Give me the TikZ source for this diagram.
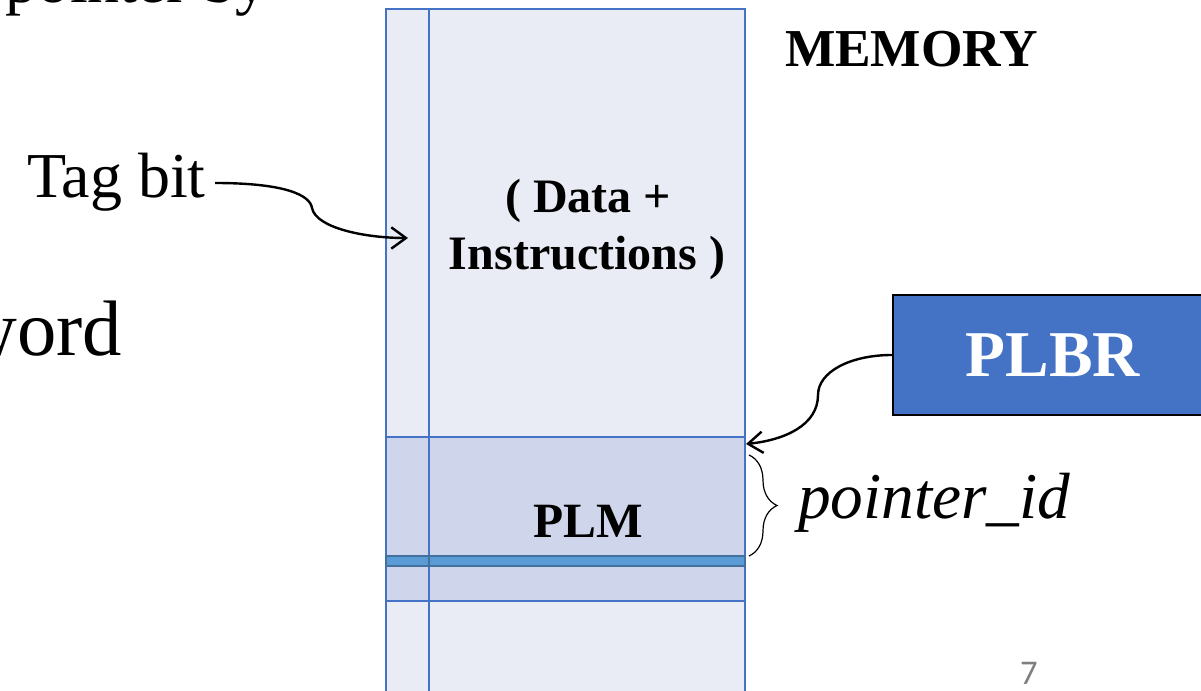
\documentclass[tikz,border=0pt]{standalone}
\usepackage{fontspec}
\setmainfont{Liberation Serif}
\newfontfamily\numfont{Carlito}
\usetikzlibrary{arrows.meta,decorations.pathreplacing}
\definecolor{memlight}{HTML}{E9EBF5}
\definecolor{memdark}{HTML}{CFD5EA}
\definecolor{memline}{HTML}{4472C4}
\definecolor{bandfill}{HTML}{5B9BD5}
\definecolor{bandline}{HTML}{41719C}
\definecolor{pagenum}{HTML}{7F7F7F}
\begin{document}
\begin{tikzpicture}[x=0.75pt,y=-0.75pt,
  txt/.style={inner sep=0pt,outer sep=0pt,text=black},
  gridline/.style={draw=memline,line width=1.9pt},
  pointer/.style={draw=black,line width=1.8pt,-{Straight Barb[length=11pt,width=16pt,line width=1.8pt]}}]
\useasboundingbox (0,0) rectangle (1201,691);

% memory column: background bands
\fill[memlight] (386,9) rectangle (745,700);
\fill[memdark] (386,437) rectangle (745,601);
% column outline, tag-bit column and word boundaries
\draw[gridline] (386,700) -- (386,9) -- (745,9) -- (745,700);
\draw[gridline] (429,9) -- (429,700);
\draw[gridline] (386,437) -- (745,437);
\draw[gridline] (386,601) -- (745,601);
% highlighted word inside the PLM
\draw[fill=bandfill,draw=bandline,line width=1.3pt] (386,556) rectangle (745,566);
\draw[draw=bandline,line width=1.3pt] (429,556) -- (429,566);

% labels
\node[txt,anchor=base west,font=\fontsize{48}{57}\selectfont] (ptrby) at (6,3) {pointer by};
\node[txt,anchor=base east,font=\fontsize{59}{70}\selectfont] (word) at (122,355) {word};
\node[txt,anchor=base west,font=\fontsize{48}{57}\selectfont] (tag) at (27,198) {Tag bit};
\node[txt,anchor=base west,font=\fontsize{40}{48}\selectfont\bfseries] (memory) at (785,67) {MEMORY};
\node[txt,anchor=base,font=\fontsize{36}{43}\selectfont\bfseries] (data1) at (588,213) {( Data +};
\node[txt,anchor=base,font=\fontsize{36}{43}\selectfont\bfseries] (data2) at (587,270) {Instructions )};
\node[txt,anchor=base,font=\fontsize{37}{44}\selectfont\bfseries] (plm) at (588,537) {PLM};
\node[txt,anchor=base west,font=\fontsize{49}{58}\selectfont\itshape] (pid) at (798,518) {pointer\_id};
\node[txt,anchor=base west,font=\numfont\fontsize{26}{31}\selectfont,text=pagenum] (pg) at (1020,684) {7};

% PLBR register
\node[draw=black,line width=1.5pt,fill=memline,text=white,
      minimum width=240pt,minimum height=90pt,inner sep=0pt,
      font=\fontsize{49}{59}\selectfont\bfseries] (plbr) at (1053,355) {PLBR};

% arrow targets
\coordinate (tagtip) at (408,238);
\coordinate (plmtop) at (746,444);
\coordinate (tagstart) at (215,183);

\draw[pointer] (tagstart) .. controls (285,183) and (310,195) .. (312,208)
  .. controls (316,228) and (365,238) .. (tagtip);
\draw[pointer] (plbr.west) .. controls (850,355) and (818,372) .. (818,395)
  .. controls (818,425) and (785,440) .. (plmtop);

% extent of one pointer_id
\draw[line width=0.9pt,decorate,decoration={brace,amplitude=21pt}]
  (749,455) coordinate (bt) -- (749,556) coordinate (bb);
\end{tikzpicture}
\end{document}
